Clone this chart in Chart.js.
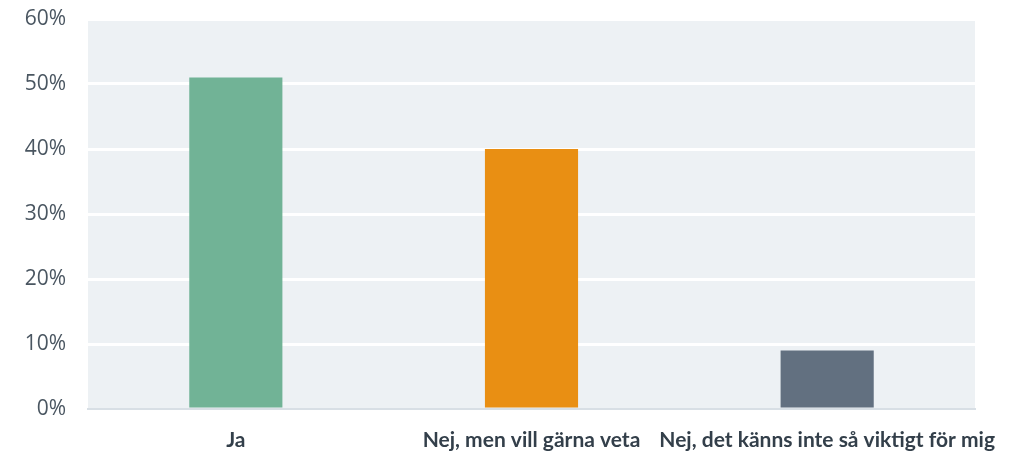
<!DOCTYPE html>
<html lang="sv">
<head>
  <meta charset="UTF-8" />
  <title>Svar</title>
  <script src="https://cdn.jsdelivr.net/npm/chart.js"></script>
  <style>
    html, body { margin: 0; padding: 0; background: #fff; }
    #wrap { width: 1030px; height: 453px; }
  </style>
</head>
<body>
  <div id="wrap"><canvas id="chart"></canvas></div>

  <script>
    const categories = ['Ja', 'Nej, men vill gärna veta', 'Nej, det känns inte så viktigt för mig'];
    const values = [51, 40, 9];
    const barColors = ['#71b396', '#e98f13', '#627080'];
    const yTicks = [0, 10, 20, 30, 40, 50, 60];

    // fill the plot area behind the grid
    const plotBg = {
      id: 'plotBg',
      beforeDraw(chart) {
        const a = chart.chartArea;
        const ctx = chart.ctx;
        ctx.save();
        ctx.fillStyle = '#edf1f4';
        ctx.fillRect(a.left, a.top, a.right - a.left, a.bottom - a.top);
        ctx.restore();
      }
    };

    new Chart(document.getElementById('chart'), {
      type: 'bar',
      data: {
        labels: categories,
        datasets: [{
          data: values,
          backgroundColor: barColors,
          categoryPercentage: 1,
          barPercentage: 0.315
        }]
      },
      options: {
        responsive: true,
        maintainAspectRatio: false,
        animation: false,
        layout: { padding: { top: 0, right: 55, bottom: 0, left: 0 } },
        plugins: {
          legend: { display: false },
          tooltip: { enabled: false }
        },
        scales: {
          x: {
            grid: { display: false, drawTicks: false },
            border: { display: true, color: '#d8dfe5', width: 2 },
            afterFit(axis) { axis.height = 44; },
            ticks: {
              autoSkip: false,
              maxRotation: 0,
              minRotation: 0,
              padding: 19,
              color: '#333f4a',
              font: { family: 'Lato', size: 21, weight: 'bold' }
            }
          },
          y: {
            min: 0,
            max: 60,
            afterBuildTicks(axis) {
              axis.ticks = yTicks.map(v => ({ value: v }));
            },
            afterFit(axis) {
              axis.width = 88;
              axis.paddingTop = 19;
              axis.paddingBottom = 0;
            },
            grid: {
              color: ctx => ctx.tick && ctx.tick.value === 0 ? 'rgba(0,0,0,0)' : '#ffffff',
              lineWidth: 3,
              drawTicks: false
            },
            border: { display: false },
            ticks: {
              padding: 22,
              color: '#4a5661',
              font: { family: 'Open Sans', size: 21 },
              callback: v => v + '%'
            }
          }
        }
      },
      plugins: [plotBg]
    });
  </script>
</body>
</html>
